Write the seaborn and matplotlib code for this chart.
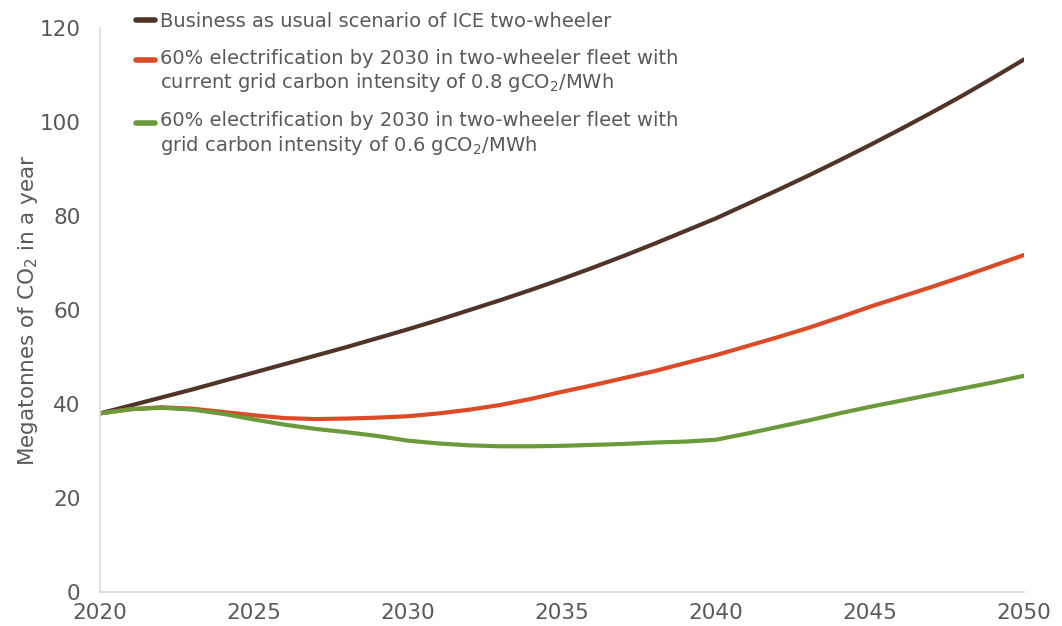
import matplotlib
matplotlib.use("Agg")
import matplotlib.pyplot as plt
import seaborn as sns
import pandas as pd

years = list(range(2020, 2051))
bau = [38.0, 39.7, 41.4, 43.1, 44.9, 46.7, 48.5, 50.3, 52.1, 54.0, 55.9,
       57.9, 60.0, 62.1, 64.3, 66.6, 69.0, 71.5, 74.1, 76.8, 79.5,
       82.5, 85.5, 88.6, 91.8, 95.1, 98.5, 102.0, 105.6, 109.4, 113.3]
grid08 = [38.0, 38.9, 39.3, 39.0, 38.3, 37.6, 37.0, 36.8, 36.9, 37.1, 37.4,
          38.0, 38.8, 39.8, 41.1, 42.6, 44.0, 45.5, 47.0, 48.7, 50.4,
          52.3, 54.2, 56.2, 58.4, 60.7, 62.8, 64.9, 67.1, 69.4, 71.7]
grid06 = [38.0, 38.9, 39.2, 38.8, 37.9, 36.7, 35.6, 34.7, 34.0, 33.2, 32.2,
          31.6, 31.2, 31.0, 31.0, 31.1, 31.3, 31.5, 31.8, 32.0, 32.4,
          33.7, 35.1, 36.5, 38.0, 39.4, 40.7, 42.0, 43.3, 44.6, 46.0]

labels = [
    "Business as usual scenario of ICE two-wheeler",
    "60% electrification by 2030 in two-wheeler fleet with\ncurrent grid carbon intensity of 0.8 gCO$_\\mathregular{2}$/MWh",
    "60% electrification by 2030 in two-wheeler fleet with\ngrid carbon intensity of 0.6 gCO$_\\mathregular{2}$/MWh",
]
colors = ["#4f3427", "#dc4a26", "#6b9a3a"]
x_ticks = [2020, 2025, 2030, 2035, 2040, 2045, 2050]
y_ticks = [0, 20, 40, 60, 80, 100, 120]

df = pd.DataFrame({
    "year": years * 3,
    "value": bau + grid08 + grid06,
    "scenario": [labels[0]] * len(years) + [labels[1]] * len(years) + [labels[2]] * len(years),
})

sns.set_theme(style="white")
plt.rcParams["font.family"] = ["DejaVu Sans"]
plt.rcParams["mathtext.fontset"] = "dejavusans"

text_color = "#595959"
fig = plt.figure(figsize=(10.62, 6.26), dpi=100)
ax = fig.add_axes([0.0942, 0.0543, 0.87, 0.901])

sns.lineplot(data=df, x="year", y="value", hue="scenario", hue_order=labels,
             palette=colors, linewidth=3.0, ax=ax, legend=True)
for ln in ax.get_lines():
    ln.set_solid_capstyle("round")

ax.set_xlim(2020, 2050)
ax.set_ylim(0, 120)
ax.set_xticks(x_ticks)
ax.set_yticks(y_ticks)
ax.tick_params(axis="both", length=0, labelsize=15.5, colors=text_color)
ax.tick_params(axis="y", pad=14)
ax.tick_params(axis="x", pad=8)
ax.set_xlabel("")
ax.set_ylabel("Megatonnes of CO$_\\mathregular{2}$ in a year", fontsize=15.5,
              color=text_color, labelpad=0)
for s in ["top", "right"]:
    ax.spines[s].set_visible(False)
for s in ["left", "bottom"]:
    ax.spines[s].set_color("#d9d9d9")
    ax.spines[s].set_linewidth(1.2)

leg = ax.legend(loc="upper left", bbox_to_anchor=(0.03, 1.042), frameon=False,
                fontsize=14, handlelength=1.0, handletextpad=0.25,
                labelspacing=0.9, borderaxespad=0)
for t in leg.get_texts():
    t.set_color(text_color)
for i, h in enumerate(leg.get_lines()):
    h.set_linewidth(4)
    h.set_solid_capstyle("round")
    if i > 0:
        yd = h.get_ydata()
        h.set_ydata([v + 8.3 for v in yd])

fig.savefig("out.png", dpi=100)
